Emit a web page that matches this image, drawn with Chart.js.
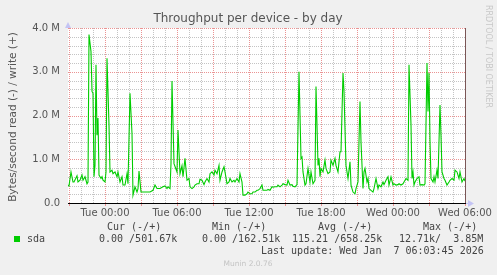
<!DOCTYPE html>
<html>
<head>
<meta charset="utf-8">
<script src="https://cdn.jsdelivr.net/npm/chart.js@4/dist/chart.umd.min.js"></script>
<style>
  html, body { margin: 0; padding: 0; background: #f0f0f0; }
  #wrap { width: 497px; height: 275px; }
</style>
</head>
<body>
<div id="wrap"><canvas id="diskChart" width="497" height="275"></canvas></div>
<script>
// sample time, minutes relative to Tue 00:00
var sampleMinutes = [
  -185, -180, -170, -160, -155, -140, -135, -125, -115, -110, -100, -90, -85, -80, -70, -65, -60, -55, -50, -45,
  -40, -35, -30, -20, -15, -10, 0, 5, 10, 20, 25, 35, 40, 50, 60, 65, 75, 85, 90, 100,
  110, 115, 125, 135, 140, 150, 160, 165, 170, 180, 190, 210, 225, 240, 250, 260, 275, 290, 300, 310,
  315, 325, 330, 335, 345, 360, 365, 375, 385, 390, 400, 410, 420, 425, 435, 445, 450, 460, 470, 475,
  485, 495, 500, 510, 520, 525, 535, 545, 550, 560, 570, 575, 585, 595, 600, 610, 620, 625, 635, 645,
  650, 660, 670, 675, 685, 690, 700, 710, 715, 725, 735, 740, 750, 760, 765, 775, 785, 790, 800, 810,
  815, 825, 835, 840, 850, 860, 865, 875, 885, 890, 900, 910, 915, 925, 935, 940, 950, 960, 970, 980,
  985, 990, 1000, 1005, 1015, 1025, 1030, 1040, 1050, 1055, 1060, 1065, 1070, 1075, 1080, 1090, 1100, 1105, 1115, 1125,
  1130, 1140, 1150, 1155, 1165, 1175, 1180, 1190, 1195, 1205, 1215, 1225, 1230, 1240, 1250, 1255, 1265, 1275, 1280, 1290,
  1295, 1300, 1310, 1315, 1320, 1330, 1340, 1345, 1355, 1365, 1370, 1380, 1390, 1395, 1405, 1415, 1420, 1430, 1440, 1445,
  1455, 1465, 1470, 1480, 1490, 1495, 1505, 1515, 1520, 1530, 1535, 1540, 1545, 1550, 1560, 1570, 1575, 1585, 1595, 1600,
  1610, 1615, 1620, 1625, 1630, 1640, 1645, 1650, 1660, 1665, 1675, 1680, 1685, 1695, 1700, 1710, 1720, 1725, 1735, 1745,
  1750, 1760, 1770, 1775, 1785, 1795, 1800
];

// sda write, MB/s
var sdaWrite = [
  0.41, 0.39, 0.71, 0.48, 0.48, 0.62, 0.48, 0.52, 0.64, 0.52, 0.60, 0.44, 0.48, 3.85, 3.46, 2.55, 2.51, 0.60, 0.86, 3.16,
  1.55, 1.94, 0.64, 0.56, 0.60, 0.52, 0.48, 0.71, 3.31, 1.78, 0.71, 0.75, 0.67, 0.71, 0.60, 0.71, 0.48, 0.60, 0.41, 0.41,
  0.67, 0.44, 2.51, 1.59, 0.18, 0.37, 0.25, 0.33, 0.73, 0.25, 0.25, 0.25, 0.25, 0.29, 0.41, 0.33, 0.33, 0.37, 0.39, 0.33,
  0.37, 0.33, 0.90, 2.79, 0.90, 0.71, 1.67, 0.67, 0.85, 0.60, 1.02, 0.52, 0.56, 0.37, 0.33, 0.37, 0.41, 0.44, 0.44, 0.54,
  0.52, 0.42, 0.48, 0.56, 0.48, 0.67, 0.71, 0.64, 0.75, 0.67, 0.86, 0.52, 0.71, 0.83, 0.71, 0.44, 0.48, 0.56, 0.48, 0.52,
  0.48, 0.56, 0.48, 0.67, 0.48, 0.18, 0.18, 0.21, 0.25, 0.21, 0.21, 0.25, 0.25, 0.29, 0.29, 0.33, 0.41, 0.29, 0.29, 0.29,
  0.31, 0.29, 0.37, 0.36, 0.37, 0.37, 0.41, 0.37, 0.41, 0.44, 0.42, 0.41, 0.52, 0.41, 0.42, 0.38, 0.37, 0.42, 3.00, 1.02,
  1.05, 0.71, 0.41, 0.44, 0.79, 0.48, 0.71, 0.44, 0.52, 2.66, 1.78, 0.86, 1.02, 0.60, 0.79, 0.71, 0.98, 0.79, 0.67, 0.71,
  0.98, 0.86, 1.02, 0.86, 0.71, 1.17, 1.17, 2.97, 2.55, 0.86, 0.56, 0.94, 0.41, 0.25, 0.21, 0.33, 0.48, 2.32, 1.40, 0.33,
  0.71, 0.79, 0.48, 0.56, 0.33, 0.29, 0.25, 0.33, 0.56, 0.33, 0.41, 0.37, 0.48, 0.42, 0.52, 0.60, 0.41, 0.60, 0.41, 0.44,
  0.41, 0.42, 0.44, 0.41, 0.44, 0.48, 0.56, 0.52, 3.16, 1.78, 0.56, 0.71, 0.41, 0.48, 0.56, 0.60, 0.41, 0.42, 0.41, 0.44,
  3.20, 2.09, 2.97, 1.40, 0.56, 0.48, 0.60, 0.48, 0.75, 0.56, 2.24, 1.55, 0.71, 0.56, 0.52, 0.41, 0.48, 0.52, 0.56, 0.52,
  0.75, 0.71, 0.56, 0.71, 0.48, 0.56, 0.50
];

var xTickMinutes = [0, 360, 720, 1080, 1440, 1800];
var xTickLabels = ['Tue 00:00', 'Tue 06:00', 'Tue 12:00', 'Tue 18:00', 'Wed 00:00', 'Wed 06:00'];
var yTickValues = [0, 1, 2, 3, 4];
var yTickLabels = ['0.0', '1.0 M', '2.0 M', '3.0 M', '4.0 M'];

var legendHeaders = ['Cur (-/+)', 'Min (-/+)', 'Avg (-/+)', 'Max (-/+)'];
var legendValues = ['0.00 /501.67k', '0.00 /162.51k', '115.21 /658.25k', '12.71k/  3.85M'];
var lastUpdate = 'Last update: Wed Jan  7 06:03:45 2026';

var GREEN = '#00cc00';
var MINOR = '#c4c4c4';
var MAJOR = '#eb9393';

function isMajorX(v) { return Math.abs(v / 180 - Math.round(v / 180)) < 1e-6; }
function isMajorY(v) { return Math.abs(v - Math.round(v)) < 1e-6; }

// rrdtool style dotted grid, placed from the chart's own scale ticks
var dottedGrid = {
  id: 'dottedGrid',
  beforeDatasetsDraw: function(chart) {
    var ctx = chart.ctx, a = chart.chartArea;
    var xs = chart.scales.x, ys = chart.scales.y;
    var top = Math.round(a.top), bottom = Math.round(a.bottom);
    var left = Math.round(a.left), right = Math.round(a.right);
    ctx.save();
    [false, true].forEach(function(major) {
      ctx.fillStyle = major ? MAJOR : MINOR;
      xs.ticks.forEach(function(t) {
        if (isMajorX(t.value) !== major) return;
        var px = Math.round(xs.getPixelForValue(t.value));
        for (var py = top; py < bottom; py += 2) ctx.fillRect(px, py, 1, 1);
        if (major) ctx.fillRect(px, bottom + 1, 1, 2);
      });
      ys.ticks.forEach(function(t) {
        if (t.value === 0 || isMajorY(t.value) !== major) return;
        var py = Math.round(ys.getPixelForValue(t.value));
        for (var px = left; px < right; px += 2) ctx.fillRect(px, py, 1, 1);
      });
    });
    ctx.restore();
  }
};

var muninPlugin = {
  id: 'munin',
  beforeDraw: function(chart) {
    var ctx = chart.ctx, a = chart.chartArea;
    ctx.save();
    ctx.fillStyle = '#f0f0f0';
    ctx.fillRect(0, 0, chart.width, chart.height);
    ctx.fillStyle = '#ffffff';
    ctx.fillRect(a.left, a.top, a.right - a.left, a.bottom - a.top);
    ctx.restore();
  },
  afterDraw: function(chart) {
    var ctx = chart.ctx, a = chart.chartArea;
    ctx.save();

    // right frame line
    ctx.strokeStyle = '#7a5656';
    ctx.lineWidth = 1;
    ctx.beginPath();
    ctx.moveTo(a.right + 0.5, a.top);
    ctx.lineTo(a.right + 0.5, a.bottom);
    ctx.stroke();

    // axis arrows
    ctx.fillStyle = '#c4c4f4';
    ctx.beginPath();
    ctx.moveTo(a.left - 3, a.top);
    ctx.lineTo(a.left + 3, a.top);
    ctx.lineTo(a.left, a.top - 6);
    ctx.closePath();
    ctx.fill();
    ctx.fillRect(a.right + 1, a.bottom, 3, 1);
    ctx.beginPath();
    ctx.moveTo(a.right + 3, a.bottom - 3);
    ctx.lineTo(a.right + 3, a.bottom + 4);
    ctx.lineTo(a.right + 9, a.bottom + 0.5);
    ctx.closePath();
    ctx.fill();

    // title
    ctx.fillStyle = '#555555';
    ctx.font = '12px "DejaVu Sans"';
    ctx.textAlign = 'center';
    ctx.textBaseline = 'middle';
    ctx.fillText('Throughput per device - by day', 248, 19);

    // y axis title
    ctx.save();
    ctx.translate(13, 117);
    ctx.rotate(-Math.PI / 2);
    ctx.font = '10.5px "DejaVu Sans"';
    ctx.fillText('Bytes/second read (-) / write (+)', 0, 0);
    ctx.restore();

    // rrdtool watermark
    ctx.save();
    ctx.translate(488, 5);
    ctx.rotate(Math.PI / 2);
    ctx.fillStyle = '#c8c8c8';
    ctx.font = '8px "DejaVu Sans"';
    ctx.textAlign = 'left';
    ctx.fillText('RRDTOOL / TOBI OETIKER', 0, 0);
    ctx.restore();

    // legend
    ctx.font = '10px "DejaVu Sans Mono"';
    ctx.textAlign = 'left';
    ctx.fillStyle = '#444444';
    var headX = [107, 212, 318, 423];
    var valX = [99, 202, 292, 399];
    legendHeaders.forEach(function(h, i) { ctx.fillText(h, headX[i], 227.5); });
    ctx.fillText('sda', 27, 239.5);
    legendValues.forEach(function(v, i) { ctx.fillText(v, valX[i], 239.5); });
    ctx.fillText(lastUpdate, 261, 251.5);
    ctx.fillStyle = GREEN;
    ctx.fillRect(14, 236, 6, 6);

    ctx.fillStyle = '#c4c4c4';
    ctx.font = '7.5px "DejaVu Sans"';
    ctx.textAlign = 'center';
    ctx.fillText('Munin 2.0.76', 248, 264.5);
    ctx.restore();
  }
};

Chart.defaults.font.family = '"DejaVu Sans"';
Chart.defaults.color = '#555555';

var points = sampleMinutes.map(function(m, i) { return { x: m, y: sdaWrite[i] }; });

new Chart(document.getElementById('diskChart'), {
  type: 'line',
  data: {
    datasets: [{
      label: 'sda',
      data: points,
      borderColor: GREEN,
      borderWidth: 1.1,
      pointRadius: 0,
      tension: 0,
      fill: false
    }]
  },
  options: {
    responsive: false,
    animation: false,
    events: [],
    layout: { padding: { left: 0, top: 28, right: 32, bottom: 0 } },
    plugins: { legend: { display: false }, tooltip: { enabled: false }, title: { display: false } },
    scales: {
      x: {
        type: 'linear',
        min: -185,
        max: 1800,
        afterFit: function(scale) { scale.height = 72; },
        border: { display: true, color: '#000000', width: 1 },
        grid: { drawOnChartArea: false, drawTicks: false },
        ticks: {
          stepSize: 60,
          includeBounds: false,
          autoSkip: false,
          maxRotation: 0,
          minRotation: 0,
          padding: 4,
          font: { size: 10 },
          color: '#555555',
          callback: function(v) {
            var i = xTickMinutes.indexOf(v);
            return i >= 0 ? xTickLabels[i] : '';
          }
        }
      },
      y: {
        min: 0,
        max: 4,
        afterFit: function(scale) { scale.width = 68; },
        border: { display: false },
        grid: { drawOnChartArea: false, drawTicks: false },
        ticks: {
          stepSize: 0.2,
          autoSkip: false,
          padding: 8,
          font: { size: 10 },
          color: '#555555',
          callback: function(v) {
            if (!isMajorY(v)) return '';
            var i = yTickValues.indexOf(Math.round(v));
            return i >= 0 ? yTickLabels[i] : '';
          }
        }
      }
    }
  },
  plugins: [muninPlugin, dottedGrid]
});
</script>
</body>
</html>
